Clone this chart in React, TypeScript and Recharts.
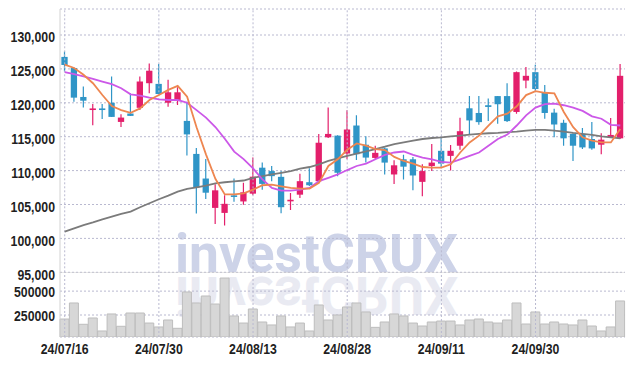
import React from "react";
import { ComposedChart, Bar, Line, XAxis, YAxis, CartesianGrid, ReferenceLine } from "recharts";

const dates = [
  "24/07/16", "24/07/17", "24/07/18", "24/07/19", "24/07/22", "24/07/23", "24/07/24", "24/07/25", "24/07/26", "24/07/29",
  "24/07/30", "24/07/31", "24/08/01", "24/08/02", "24/08/05", "24/08/06", "24/08/07", "24/08/08", "24/08/09", "24/08/12",
  "24/08/13", "24/08/14", "24/08/16", "24/08/19", "24/08/20", "24/08/21", "24/08/22", "24/08/23", "24/08/26", "24/08/27",
  "24/08/28", "24/08/29", "24/08/30", "24/09/02", "24/09/03", "24/09/04", "24/09/05", "24/09/06", "24/09/09", "24/09/10",
  "24/09/11", "24/09/12", "24/09/13", "24/09/19", "24/09/20", "24/09/23", "24/09/24", "24/09/25", "24/09/26", "24/09/27",
  "24/09/30", "24/10/02", "24/10/04", "24/10/07", "24/10/08", "24/10/10", "24/10/11", "24/10/14", "24/10/15", "24/10/16",
];

const opens = [
  126770, 125130, 120860, 119020, 119170, 120010, 117180, 118420, 119260, 122890,
  122790, 120010, 120310, 117330, 112460, 108830, 104500, 103760, 106350, 105450,
  106600, 110430, 109930, 109080, 105500, 106450, 108290, 108440, 114910, 115160,
  112520, 116650, 113810, 111870, 113270, 109430, 111670, 111670, 108340, 110680,
  112920, 112170, 113670, 119190, 118500, 119640, 120990, 120990, 118650, 123280,
  124520, 121530, 118550, 117050, 115410, 115410, 114660, 113820, 114910, 114760,
];
const highs = [
  127560, 125200, 122400, 119810, 119810, 123880, 118320, 121400, 123880, 125780,
  125730, 123390, 122300, 120160, 113350, 111710, 107980, 106350, 108850, 108190,
  111920, 111180, 110680, 109930, 106690, 109530, 110340, 115410, 119290, 115200,
  118890, 118150, 115060, 113670, 113420, 111520, 112320, 112000, 110930, 113920,
  114910, 113770, 117800, 120990, 120990, 120640, 121000, 122880, 124620, 125270,
  125620, 122630, 119140, 117500, 115500, 116300, 117150, 115510, 117750, 125720,
];
const lows = [
  124630, 120160, 119320, 116680, 117610, 117920, 116430, 118070, 118920, 121400,
  121300, 119410, 119660, 112210, 103660, 105800, 102120, 101920, 105410, 104950,
  106350, 107190, 108440, 103710, 104200, 105950, 107740, 108190, 114810, 109180,
  111670, 111570, 111180, 111670, 109430, 108040, 108690, 107090, 106200, 109930,
  110430, 110030, 113070, 115260, 116750, 117300, 116900, 117150, 118400, 122130,
  121630, 117650, 114910, 113670, 111430, 113170, 113070, 112420, 114810, 114660,
];
const closes = [
  125580, 120760, 120310, 119170, 119070, 117920, 117820, 118070, 123140, 124730,
  121300, 121550, 121550, 115340, 107490, 106740, 107090, 105100, 106250, 106800,
  109100, 108040, 109180, 104600, 105700, 108440, 107840, 114110, 115410, 109680,
  116060, 112420, 111920, 112620, 111180, 110780, 110580, 109280, 109930, 111180,
  111030, 112920, 115810, 117400, 117150, 119390, 119790, 117300, 124520, 123980,
  122030, 118500, 116800, 114760, 113670, 113420, 113270, 114560, 115260, 123980,
];

const maShort = [
  125630, 125130, 124140, 122890, 121150, 119510, 118920, 118520, 119170, 120410,
  121150, 121900, 122500, 120900, 116400, 112400, 108800, 106490, 106490, 106640,
  107190, 107840, 107940, 107690, 107440, 107340, 107340, 108190, 110680, 111670,
  113070, 114010, 113670, 113170, 113020, 112020, 111420, 111030, 110530, 110430,
  110430, 110930, 112670, 114160, 115160, 116650, 118000, 118400, 119490, 121140,
  121730, 121480, 121380, 118650, 116400, 114910, 114410, 114160, 114160, 116150,
];
const maMid = [
  124530, 124230, 123880, 123540, 123140, 122740, 122150, 121250, 121050, 120760,
  120510, 120410, 120410, 120010, 118920, 117820, 116430, 114690, 112800, 111700,
  110330, 108690, 107440, 107040, 107040, 107190, 107440, 108440, 108930, 109430,
  110080, 110680, 111030, 111670, 112320, 112670, 112820, 112320, 111920, 111670,
  111280, 111180, 111670, 112170, 112670, 113670, 114660, 115310, 116650, 118150,
  119290, 119790, 119890, 119640, 119290, 118800, 118000, 117650, 116750, 116650,
];
const maLong = [
  100990, 101480, 101970, 102370, 102810, 103200, 103600, 103940, 104590, 105180,
  105770, 106300, 106890, 107290, 107540, 107780, 108130, 108280, 108400, 108540,
  108940, 109180, 109430, 109680, 109930, 110280, 110530, 110930, 111420, 111820,
  112170, 112520, 112820, 113170, 113520, 113920, 114160, 114410, 114660, 114810,
  114910, 115060, 115160, 115310, 115410, 115510, 115560, 115660, 115760, 115910,
  116010, 116010, 115910, 115760, 115560, 115410, 115260, 115060, 114910, 114760,
];

const volumes = [
  208000, 376000, 153000, 219000, 83000, 261000, 132000, 271000, 271000, 166000,
  125000, 198000, 111000, 491000, 376000, 449000, 365000, 637000, 240000, 166000,
  313000, 177000, 146000, 240000, 125000, 166000, 83000, 355000, 198000, 250000,
  334000, 376000, 282000, 121000, 177000, 261000, 240000, 166000, 135000, 177000,
  187000, 187000, 146000, 198000, 208000, 177000, 166000, 198000, 376000, 156000,
  282000, 156000, 177000, 156000, 146000, 198000, 135000, 83000, 125000, 397000,
];

const tickDates = ["24/07/16", "24/07/30", "24/08/13", "24/08/28", "24/09/11", "24/09/30"];
const priceTicks = [95000, 100000, 105000, 110000, 115000, 120000, 125000, 130000];
const volumeTicks = [250000, 500000];
const priceDomain = [95000, 133835];
const volumeDomain = [20000, 700000];

const rows = dates.map((date, i) => ({
  date,
  open: opens[i],
  high: highs[i],
  low: lows[i],
  close: closes[i],
  maShort: maShort[i],
  maMid: maMid[i],
  maLong: maLong[i],
  volume: volumes[i],
}));

const RED = "#e31f6b";
const BLUE = "#2f95c7";
const GRID = "#b9b9d0";
const FRAME = "#d2d2d2";
const LABEL_FONT = "'Liberation Sans', Arial, sans-serif";
const LABEL_COLOR = "#1f1f1f";

const Candle = (props: any) => {
  const { x, y, width, height, payload } = props;
  const { open, close, high, low } = payload;
  const top = Math.min(y, y + height);
  const h = Math.abs(height);
  const span = high - low || 1;
  const py = (v: number) => top + ((high - v) / span) * h;
  const up = close >= open;
  const color = up ? RED : BLUE;
  const cx = x + width / 2;
  const bw = width * 0.7;
  const bTop = py(Math.max(open, close));
  const bBot = py(Math.min(open, close));
  const bh = Math.max(bBot - bTop, 1.6);
  return (
    <g>
      <line x1={cx} x2={cx} y1={top} y2={top + h} stroke={color} strokeWidth={1.2} />
      <rect x={cx - bw / 2} y={bTop} width={bw} height={bh} fill={color} />
    </g>
  );
};

const fmtPrice = (v: number) => v.toLocaleString("en-US");

const YTick = (props: any) => {
  const { x, y, payload, comma, shift } = props;
  const label = comma ? fmtPrice(payload.value) : String(payload.value);
  return (
    <text
      transform={`translate(${x},${y + (shift || 0)}) scale(0.82,1)`}
      textAnchor="end"
      dominantBaseline="central"
      fontSize={15}
      fontWeight="bold"
      fontFamily={LABEL_FONT}
      fill={LABEL_COLOR}
    >
      {label}
    </text>
  );
};

const XTick = (props: any) => {
  const { x, y, payload } = props;
  return (
    <text
      transform={`translate(${x},${y}) scale(0.82,1)`}
      textAnchor="middle"
      dy="0.71em"
      fontSize={15}
      fontWeight="bold"
      fontFamily={LABEL_FONT}
      fill={LABEL_COLOR}
    >
      {payload.value}
    </text>
  );
};

const vGrid = (prefix: string) =>
  tickDates.map((d) => (
    <ReferenceLine key={prefix + d} x={d} stroke={GRID} strokeDasharray="2 2" ifOverflow="visible" />
  ));

export default function App() {
  return (
    <div style={{ position: "absolute", left: 0, top: 0, width: 634, height: 366, background: "#fff" }}>
      <svg width={634} height={366} style={{ position: "absolute", left: 0, top: 0 }}>
        <text
          x={175}
          y={272}
          fontSize={54}
          fontWeight="bold"
          fontFamily="Roboto, 'Liberation Sans', sans-serif"
          fill="#cdd3e8"
          textLength={283}
          lengthAdjust="spacingAndGlyphs"
        >
          investCRUX
        </text>
        <text
          x={175}
          y={272}
          fontSize={54}
          fontWeight="bold"
          fontFamily="Roboto, 'Liberation Sans', sans-serif"
          fill="#e9eaf2"
          textLength={283}
          lengthAdjust="spacingAndGlyphs"
          transform="translate(0,549) scale(1,-1)"
        >
          investCRUX
        </text>
      </svg>

      <div style={{ position: "absolute", left: 0, top: 0 }}>
        <ComposedChart width={634} height={290} data={rows} margin={{ top: 9, right: 9, bottom: 17.7, left: 0 }} barCategoryGap={0}>
          <CartesianGrid stroke={GRID} strokeDasharray="2 2" vertical={false} />
          <XAxis dataKey="date" ticks={tickDates} interval={0} tick={false} tickLine={false} height={0} axisLine={{ stroke: FRAME }} />
          <XAxis xAxisId="top" dataKey="date" orientation="top" tick={false} tickLine={false} height={0} axisLine={{ stroke: FRAME }} />
          <YAxis
            domain={priceDomain}
            allowDataOverflow
            ticks={priceTicks}
            interval={0}
            width={60}
            tickSize={0}
            tickMargin={5}
            tickLine={false}
            axisLine={{ stroke: FRAME }}
            tick={<YTick comma shift={2.5} />}
          />
          <YAxis yAxisId="right" orientation="right" width={0} tick={false} tickLine={false} axisLine={{ stroke: FRAME }} />
          {vGrid("a")}
          <Bar dataKey={(d: any) => [d.low, d.high]} shape={<Candle />} isAnimationActive={false} />
          <Line dataKey="maLong" stroke="#7b7b7b" strokeWidth={1.8} dot={false} isAnimationActive={false} />
          <Line dataKey="maMid" stroke="#cc58e8" strokeWidth={1.8} dot={false} isAnimationActive={false} />
          <Line dataKey="maShort" stroke="#ee8650" strokeWidth={1.8} dot={false} isAnimationActive={false} />
        </ComposedChart>
      </div>

      <div style={{ position: "absolute", left: 0, top: 272 }}>
        <ComposedChart width={634} height={94} data={rows} margin={{ top: 0, right: 9, bottom: 0, left: 0 }} barCategoryGap={0}>
          <CartesianGrid stroke={GRID} strokeDasharray="2 2" vertical={false} />
          <XAxis
            dataKey="date"
            ticks={tickDates}
            interval={0}
            height={29}
            tickLine={false}
            axisLine={false}
            tickSize={0}
            tickMargin={6}
            tick={<XTick />}
          />
          <YAxis
            domain={volumeDomain}
            allowDataOverflow
            ticks={volumeTicks}
            interval={0}
            width={60}
            tickSize={0}
            tickMargin={5}
            tickLine={false}
            axisLine={{ stroke: FRAME }}
            tick={<YTick shift={1} />}
          />
          <YAxis yAxisId="right" orientation="right" width={0} tick={false} tickLine={false} axisLine={{ stroke: FRAME }} />
          {vGrid("b")}
          <ReferenceLine y={volumeDomain[1]} stroke={FRAME} />
          <Bar dataKey="volume" fill="#d7d7d7" stroke="#bdbdbd" strokeWidth={1} isAnimationActive={false} />
        </ComposedChart>
      </div>
    </div>
  );
}
